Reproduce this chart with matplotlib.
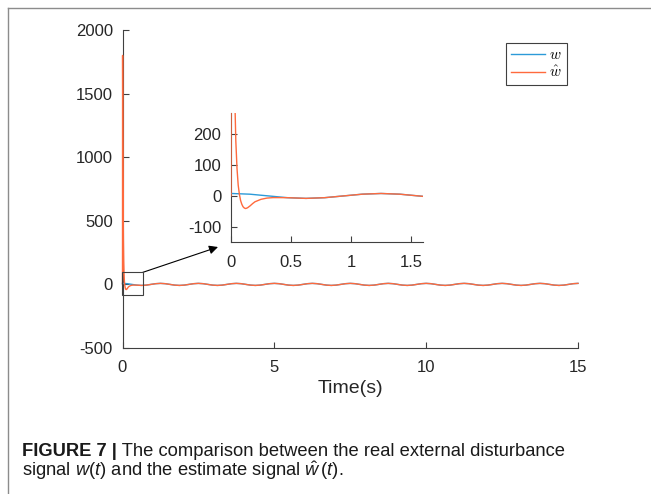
import numpy as np
import matplotlib
matplotlib.use("Agg")
import matplotlib.pyplot as plt
from matplotlib.lines import Line2D
from matplotlib.patches import Rectangle
from matplotlib.font_manager import FontProperties

plt.rcParams["font.family"] = ["Liberation Sans", "DejaVu Sans"]
plt.rcParams["axes.unicode_minus"] = False
plt.rcParams["mathtext.fontset"] = "custom"
plt.rcParams["mathtext.rm"] = "Liberation Sans"
plt.rcParams["mathtext.it"] = "Liberation Sans:italic"

# real disturbance w(t), sampled every 1/8 of its ~1.25 s period, 0..15 s
t_w = np.linspace(0, 15, 97)
w_vals = (
    [8.0, 5.7, 0.0, -5.7, -8.0, -5.7, 0.0, 5.7] * 12
    + [8.0]
)

# estimate w_hat(t): start-up transient,
# after ~0.45 s it lies on top of w(t)
t_hat_head = [0, 0.003, 0.01, 0.02, 0.03, 0.04, 0.05, 0.06, 0.07, 0.08, 0.09,
              0.10, 0.11, 0.12, 0.13, 0.14, 0.16, 0.18, 0.20, 0.25, 0.30, 0.35, 0.40]
w_hat_head = [0, 1800, 1180, 650, 350, 180, 90, 35, 5, -15, -27,
              -35, -39, -41, -40, -38, -32, -25, -19, -11, -7, -5.5, -5.5]
t_hat = list(t_hat_head) + list(t_w[3:])
w_hat = w_hat_head + w_vals[3:]

main_xticks = [0, 5, 10, 15]
main_yticks = [-500, 0, 500, 1000, 1500, 2000]
inset_xticks = [0, 0.5, 1, 1.5]
inset_yticks = [-100, 0, 100, 200]

BLUE = "#2C9AD8"
RED = "#FF6A3D"
AX = "#404040"
W, H = 651, 494


def style(ax, size):
    for s in ("top", "right"):
        ax.spines[s].set_visible(False)
    for s in ("left", "bottom"):
        ax.spines[s].set_color(AX)
        ax.spines[s].set_linewidth(0.8)
    ax.tick_params(direction="in", length=4, width=0.8, color=AX,
                   labelcolor="#262626", labelsize=size)
    ax.tick_params(axis="x", pad=9)
    ax.tick_params(axis="y", pad=7)


fig = plt.figure(figsize=(W / 100, H / 100), dpi=100)
ax = fig.add_axes([122.5 / W, 1 - 348 / H, (578 - 122.5) / W, 318 / H])
ax.plot(t_w, w_vals, color=BLUE, lw=1.0, label=r"$w$", zorder=3, clip_on=False)
ax.plot(t_hat, w_hat, color=RED, lw=1.0, label=r"$\hat{w}$", zorder=3, clip_on=False)
ax.set_xlim(0, 15)
ax.set_ylim(-500, 2000)
ax.set_xticks(main_xticks)
ax.set_yticks(main_yticks)
style(ax, 12)
ax.set_xlabel("Time(s)", fontsize=14, color="#262626", labelpad=3)

ax.add_patch(Rectangle((-0.03, -86), 0.69, 180, fill=False, ec=AX, lw=0.8,
                       clip_on=False, zorder=5))
ax.annotate("", xy=(218 / W, 1 - 247 / H), xycoords="figure fraction",
            xytext=(0.66, 94), textcoords="data",
            arrowprops=dict(arrowstyle="-|>", color="k", lw=0.8, mutation_scale=13,
                            shrinkA=0, shrinkB=0),
            annotation_clip=False)

leg = ax.legend(loc="upper right", bbox_to_anchor=(567 / W, 1 - 43 / H),
                bbox_transform=fig.transFigure, borderaxespad=0, fancybox=False,
                edgecolor=AX, framealpha=1, handlelength=2.2, handletextpad=0.3,
                borderpad=0.35, labelspacing=0.15,
                prop=FontProperties(size=11, math_fontfamily="cm"))
leg.get_frame().set_linewidth(0.8)

axi = fig.add_axes([231 / W, 1 - 242 / H, 192 / W, 129 / H])
axi.plot(t_w, w_vals, color=BLUE, lw=1.0, zorder=3)
axi.plot(t_hat, w_hat, color=RED, lw=1.0, zorder=3)
axi.set_xlim(0, 1.6)
axi.set_ylim(-150, 270)
axi.set_xticks(inset_xticks)
axi.set_xticklabels(["0", "0.5", "1", "1.5"])
axi.set_yticks(inset_yticks)
style(axi, 12)

# figure frame (left and top edges)
fig.add_artist(Line2D([8 / W, 8 / W], [0, 1 - 8 / H], color="#8c8c8c", lw=1,
                      transform=fig.transFigure))
fig.add_artist(Line2D([8 / W, 1], [1 - 8 / H, 1 - 8 / H], color="#8c8c8c", lw=1,
                      transform=fig.transFigure))

# caption
cap_size = 13.2
t1 = fig.text(22 / W, 1 - 456 / H, "FIGURE 7 |", fontsize=cap_size,
              fontweight="bold", color="#1a1a1a")
fig.canvas.draw()
bb = t1.get_window_extent(fig.canvas.get_renderer())
fig.text(bb.x1 / W, 1 - 456 / H, " The comparison between the real external disturbance",
         fontsize=cap_size, color="#1a1a1a")
fig.text(22 / W, 1 - 476 / H,
         r"signal $w$($t$) and the estimate signal $\hat{w}\,$($t$).",
         fontsize=cap_size, color="#1a1a1a", math_fontfamily="custom")

fig.savefig("out.png", dpi=100)
